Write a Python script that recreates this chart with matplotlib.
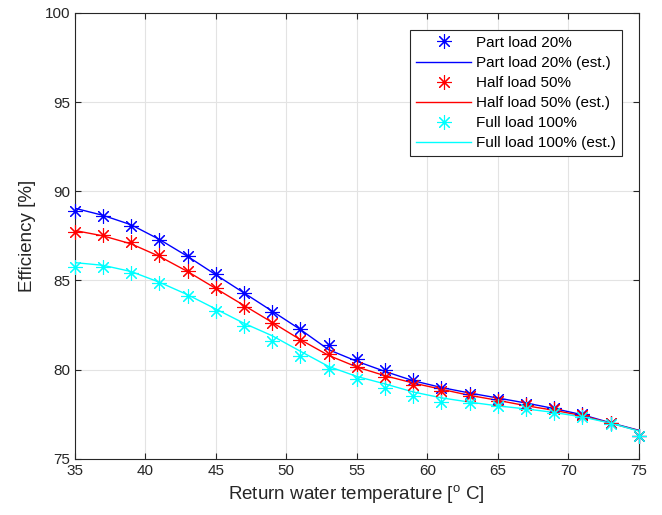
import matplotlib
matplotlib.use("Agg")
import matplotlib.pyplot as plt

plt.rcParams['font.family'] = ['Liberation Sans', 'DejaVu Sans']
plt.rcParams['mathtext.fontset'] = 'custom'
plt.rcParams['mathtext.rm'] = 'Liberation Sans'

# return water temperature [C]
temps = [35, 37, 39, 41, 43, 45, 47, 49, 51, 53, 55, 57, 59, 61, 63, 65, 67, 69, 71, 73, 75]

# measured efficiency [%]
part20 = [88.92, 88.64, 88.07, 87.28, 86.36, 85.36, 84.31, 83.26, 82.26, 81.36, 80.62,
          79.96, 79.40, 78.97, 78.65, 78.35, 78.09, 77.85, 77.53, 77.0, 76.3]
half50 = [87.71, 87.56, 87.13, 86.40, 85.53, 84.57, 83.53, 82.63, 81.65, 80.88, 80.14,
          79.59, 79.16, 78.82, 78.50, 78.27, 78.00, 77.80, 77.47, 77.0, 76.3]
full100 = [85.78, 85.78, 85.42, 84.85, 84.14, 83.31, 82.44, 81.63, 80.78, 80.05, 79.45,
           78.95, 78.54, 78.21, 78.12, 77.94, 77.80, 77.57, 77.37, 76.96, 76.3]

# estimated efficiency [%]
part20_est = [89.05, 88.65, 88.12, 87.30, 86.35, 85.32, 84.30, 83.28, 82.25, 81.12, 80.47,
              79.90, 79.38, 79.00, 78.69, 78.41, 78.13, 77.82, 77.47, 77.02, 76.6]
half50_est = [87.80, 87.50, 87.05, 86.35, 85.50, 84.55, 83.60, 82.65, 81.68, 80.80, 80.15,
              79.66, 79.25, 78.90, 78.56, 78.28, 77.98, 77.72, 77.42, 77.0, 76.58]
full100_est = [86.00, 85.85, 85.50, 84.90, 84.20, 83.40, 82.60, 81.90, 81.03, 80.18, 79.62,
               79.20, 78.75, 78.42, 78.18, 77.97, 77.80, 77.60, 77.35, 77.0, 76.56]

fig = plt.figure(figsize=(6.62, 5.15), dpi=100)
ax = fig.add_axes([0.113, 0.109, 0.852, 0.866])

star = (8, 2, 0)
mk = dict(ls='none', marker=star, ms=10.5, mew=0.8, clip_on=False, zorder=3)
ax.plot(temps, part20, color='#0000ff', label='Part load 20%', **mk)
ax.plot(temps, part20_est, color='#0000ff', lw=1, label='Part load 20% (est.)')
ax.plot(temps, half50, color='#ff0000', label='Half load 50%', **mk)
ax.plot(temps, half50_est, color='#ff0000', lw=1, label='Half load 50% (est.)')
ax.plot(temps, full100, color='#00ffff', label='Full load 100%', **mk)
ax.plot(temps, full100_est, color='#00ffff', lw=1, label='Full load 100% (est.)')

ax.set_xlim(35, 75)
ax.set_ylim(75, 100)
ax.set_xticks([35, 40, 45, 50, 55, 60, 65, 70, 75])
ax.set_yticks([75, 80, 85, 90, 95, 100])
ax.grid(True, color='#e3e3e3', lw=0.8)
ax.set_axisbelow(True)
ax.tick_params(direction='in', top=True, right=True, labelsize=11, colors='#262626',
               length=4)
for sp in ax.spines.values():
    sp.set_color('#262626')
    sp.set_linewidth(0.8)

ax.set_xlabel(r'Return water temperature [$^{\rm o}$ C]', fontsize=13.5, color='#262626')
ax.set_ylabel('Efficiency [%]', fontsize=13.5, color='#262626', labelpad=6)

leg = ax.legend(loc='upper right', fontsize=11, handlelength=3.6, handletextpad=0.3,
                labelspacing=0.4, borderaxespad=1.1, fancybox=False, framealpha=1,
                edgecolor='#262626', borderpad=0.4)
leg.get_frame().set_linewidth(0.8)

fig.savefig('out.png', dpi=100)
